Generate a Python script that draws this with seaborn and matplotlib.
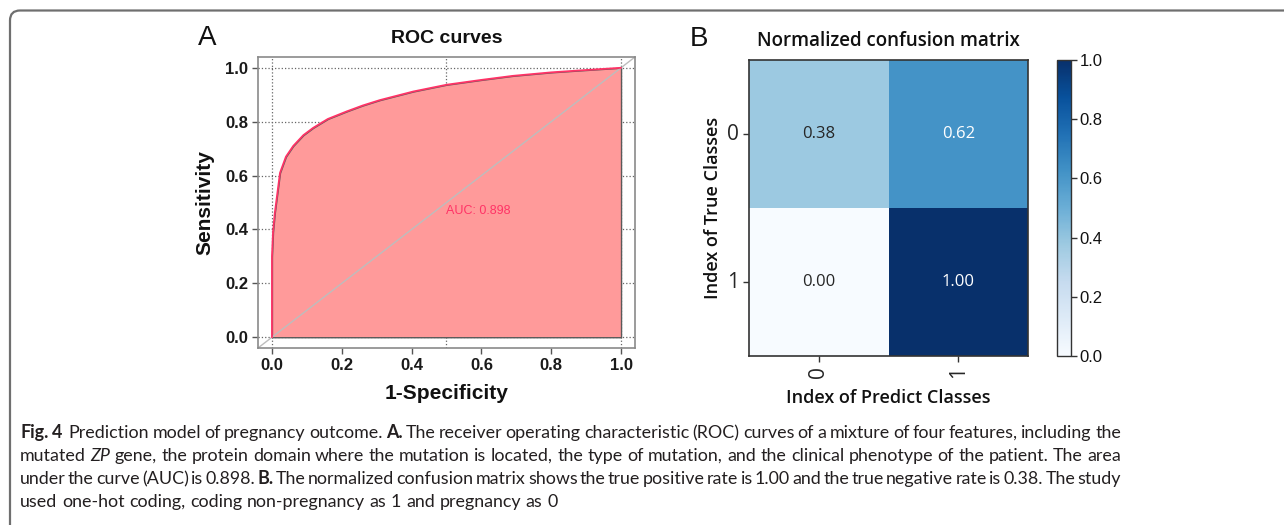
import numpy as np
import pandas as pd
import matplotlib
matplotlib.use("Agg")
import matplotlib.pyplot as plt
import seaborn as sns
from matplotlib.patches import FancyBboxPatch
from matplotlib.transforms import IdentityTransform

# ROC curve points
fpr = [0.0, 0.0, 0.003, 0.008, 0.013, 0.023, 0.04, 0.061, 0.09, 0.118, 0.16,
       0.214, 0.26, 0.309, 0.405, 0.5, 0.6, 0.69, 0.8, 0.88, 1.0]
tpr = [0.0, 0.30, 0.39, 0.46, 0.51, 0.61, 0.67, 0.71, 0.75, 0.777, 0.81,
       0.838, 0.86, 0.88, 0.912, 0.937, 0.955, 0.97, 0.983, 0.99, 1.0]
auc_label = "AUC: 0.898"
roc_ticks = [0.0, 0.2, 0.4, 0.6, 0.8, 1.0]

# normalized confusion matrix
classes = ["0", "1"]
cm_values = [[0.38, 0.62],
             [0.00, 1.00]]
cbar_ticks = [0.0, 0.2, 0.4, 0.6, 0.8, 1.0]

caption_lines = [
    [("Fig.", "b"), ("4", "b"), ("", "n"), ("Prediction model of pregnancy outcome.", "n"), ("A.", "b"),
     ("The receiver operating characteristic (ROC) curves of a mixture of four features, including the", "n")],
    [("mutated", "n"), ("ZP", "i"),
     ("gene, the protein domain where the mutation is located, the type of mutation, and the clinical phenotype of the patient. The area", "n")],
    [("under the curve (AUC) is 0.898.", "n"), ("B.", "b"),
     ("The normalized confusion matrix shows the true positive rate is 1.00 and the true negative rate is 0.38. The study", "n")],
    [("used one-hot coding, coding non-pregnancy as 1 and pregnancy as 0", "n")],
]

sns.set_theme(style="white")
plt.rcParams["font.family"] = ["Liberation Sans", "DejaVu Sans"]

W, H = 1284, 525
fig = plt.figure(figsize=(W / 100, H / 100), dpi=100)


def box(l, t, r, b):
    return [l / W, 1 - b / H, (r - l) / W, (b - t) / H]


# outer frame of the figure
frame = FancyBboxPatch((10, -20), W + 20, H - 10.5 + 20, boxstyle="round,pad=0,rounding_size=10",
                       transform=IdentityTransform(), facecolor="none", edgecolor="#6f6f6f", lw=1.6)
fig.patches.append(frame)

# ---- A: ROC ----
ax = fig.add_axes(box(258, 57, 635, 348))
ax.set_xlim(-0.04, 1.04)
ax.set_ylim(-0.04, 1.04)
for y in roc_ticks:
    ax.axhline(y, ls=":", color="#666666", lw=0.9, zorder=0.5)
for x in [0.0, 0.5, 1.0]:
    ax.axvline(x, ls=":", color="#666666", lw=0.9, zorder=0.5)

ax.fill_between(fpr, tpr, 0, facecolor="#ff9a9a", edgecolor="#5a5a5a", lw=1.0, zorder=1)
ax.plot([0, 1], [0, 1], transform=ax.transAxes, color="#bdbdbd", lw=1.0, zorder=2)
roc = pd.DataFrame({"fpr": fpr, "tpr": tpr})
sns.lineplot(data=roc, x="fpr", y="tpr", sort=False, estimator=None, color="#ff3366", lw=1.3, ax=ax, zorder=3)
ax.text(0.5, 0.47, auc_label, color="#ff3366", fontsize=9, va="center", ha="left", zorder=4)

ax.set_xticks(roc_ticks)
ax.set_yticks(roc_ticks)
ax.set_xticklabels([f"{v:.1f}" for v in roc_ticks], fontweight="bold", fontsize=12, color="#1a1a1a")
ax.set_yticklabels([f"{v:.1f}" for v in roc_ticks], fontweight="bold", fontsize=12, color="#1a1a1a")
ax.tick_params(direction="out", length=4, width=1, color="#555555", bottom=True, left=True, pad=3)
for s in ax.spines.values():
    s.set_color("#8a8a8a")
    s.set_linewidth(1.2)
ax.set_xlabel("1-Specificity", fontweight="bold", fontsize=15, color="#111111", labelpad=8)
ax.set_ylabel("Sensitivity", fontweight="bold", fontsize=15, color="#111111", labelpad=8)
ax.set_title("ROC curves", fontweight="bold", fontsize=14, color="#111111", pad=10)
fig.text(198 / W, 1 - 38 / H, "A", fontsize=20, va="center", ha="left", color="#111111")

# ---- B: confusion matrix ----
ax2 = fig.add_axes(box(749, 60, 1028, 356))
cax = fig.add_axes(box(1057, 60, 1071, 356))
cm = pd.DataFrame(cm_values, index=classes, columns=classes)
sns.heatmap(cm, cmap="Blues", vmin=0, vmax=1, annot=True, fmt=".2f", ax=ax2, cbar_ax=cax,
            annot_kws={"fontsize": 12, "family": "Open Sans"})
for s in ax2.spines.values():
    s.set_visible(True)
    s.set_color("#333333")
    s.set_linewidth(1.2)
ax2.set_xticklabels(classes, rotation=90, fontsize=15, family="Open Sans")
ax2.set_yticklabels(classes, rotation=0, fontsize=15, family="Open Sans", va="center")
ax2.tick_params(length=4, width=1, color="#333333", bottom=True, left=True, pad=3)
ax2.set_xlabel("Index of Predict Classes", fontsize=13, family="Open Sans", fontweight="semibold",
               color="#111111", labelpad=8)
ax2.set_ylabel("Index of True Classes", fontsize=13, family="Open Sans", fontweight="semibold",
               color="#111111", labelpad=4)
ax2.set_title("Normalized confusion matrix", fontsize=13.5, family="Open Sans", fontweight="semibold",
              color="#111111", pad=10)
fig.text(690 / W, 1 - 39 / H, "B", fontsize=20, va="center", ha="left", color="#111111")

cbar = ax2.collections[0].colorbar
cbar.set_ticks(cbar_ticks)
cbar.set_ticklabels([f"{v:.1f}" for v in cbar_ticks], fontsize=12, color="#111111")
cax.tick_params(length=4, width=1, color="#333333", right=True, pad=2)
cbar.outline.set_edgecolor("#333333")
cbar.outline.set_linewidth(1.0)

# ---- caption (justified lines) ----
renderer = fig.canvas.get_renderer()
cap_size = 12.85
x_left, x_right = 20, 1121
baselines = [438, 461, 484, 507]
for i, line in enumerate(caption_lines):
    words = []
    for txt, st in line:
        parts = txt.split(" ") if txt else [""]
        for p in parts:
            words.append((p, st))
    arts, widths = [], []
    for w, st in words:
        t = fig.text(0, 1 - baselines[i] / H, w, fontsize=cap_size, family="Lato", color="#231f20",
                     fontweight="bold" if st == "b" else "normal",
                     fontstyle="italic" if st == "i" else "normal", va="baseline", ha="left")
        arts.append(t)
        widths.append(t.get_window_extent(renderer).width if w else 0)
    if i < len(caption_lines) - 1:
        gap = (x_right - x_left - sum(widths)) / (len(words) - 1)
    else:
        gap = cap_size * 100 / 72 * 0.26
    x = x_left
    for t, wd in zip(arts, widths):
        t.set_x(x / W)
        x += wd + gap

fig.savefig("out.png", dpi=100)
